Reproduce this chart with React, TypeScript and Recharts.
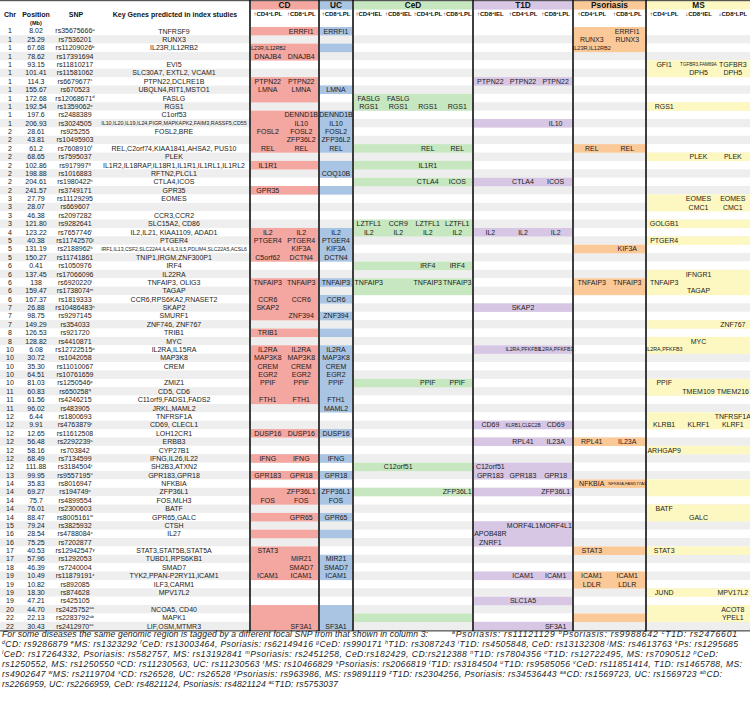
import React from "react";
import { ScatterChart, Scatter, XAxis, YAxis } from "recharts";

// ---------------- data ----------------
const chrs = [1,1,1,1,1,1,1,1,1,1,1,1,2,2,2,2,2,2,2,2,3,3,3,3,4,5,5,5,6,6,6,6,6,7,7,7,8,8,10,10,10,10,10,11,11,11,12,12,12,12,12,12,12,13,14,14,14,14,14,15,16,16,17,17,18,19,19,19,19,20,22,22];

const positions = ["8.02","25.29","67.68","78.62","93.15","101.41","114.3","155.67","172.68","192.54","197.6","206.93","28.61","43.81","61.2","68.65","102.86","198.88","204.61","241.57","27.79","28.07","46.38","121.80","123.22","40.38","131.19","150.27","0.41","137.45","138","159.47","167.37","26.88","98.75","149.29","126.53","128.82","6.08","30.72","35.30","64.51","81.03","60.83","61.56","96.02","6.44","9.91","12.65","56.48","58.16","68.49","111.88","99.95","35.83","69.27","75.7","76.01","88.47","79.24","28.54","75.25","40.53","57.96","46.39","10.49","10.82","18.30","47.21","44.70","22.13","30.43"];

const snps = ["rs35675666","rs7536201","rs11209026","rs17391694","rs11810217","rs11581062","rs6679677","rs670523","rs12068671","rs1359062","rs2488389","rs3024505","rs925255","rs10495903","rs7608910","rs7595037","rs917997","rs1016883","rs1980422","rs3749171","rs11129295","rs669607","rs2097282","rs9282641","rs7657746","rs11742570","rs2188962","rs11741861","rs1050976","rs17066096","rs6920220","rs1738074","rs1819333","rs10486483","rs9297145","rs354033","rs921720","rs4410871","rs12722515","rs1042058","rs11010067","rs10761659","rs1250546","rs650258","rs4246215","rs483905","rs1800693","rs4763879","rs11612508","rs2292239","rs703842","rs7134599","rs3184504","rs9557195","rs8016947","rs194749","rs4899554","rs2300603","rs8005161","rs3825932","rs4788084","rs7202877","rs12942547","rs1292053","rs7240004","rs11879191","rs892085","rs874628","rs425105","rs2425752","rs2283792","rs2412970"];

const snpMarks: [number, string][] = [[1,"a"],[3,"b"],[7,"c"],[9,"d"],[10,"e"],[15,"f"],[17,"g"],[19,"h"],[25,"i"],[26,"j"],[27,"k"],[31,"l"],[32,"m"],[34,"n"],[39,"o"],[43,"p"],[44,"q"],[48,"r"],[50,"s"],[53,"t"],[54,"u"],[56,"v"],[59,"w"],[61,"x"],[63,"y"],[66,"z"],[70,"aa"],[71,"ab"],[72,"ac"]];

const keyGenes = ["TNFRSF9","RUNX3","IL23R,IL12RB2","","EVI5","SLC30A7, EXTL2, VCAM1","PTPN22,DCLRE1B","UBQLN4,RIT1,MSTO1","FASLG","RGS1","C1orf53","IL10,IL20,IL19,IL24,PIGR,MAPKAPK2,FAIM3,RASSF5,CD55","FOSL2,BRE","","REL,C2orf74,KIAA1841,AHSA2, PUS10","PLEK","IL1R2,IL18RAP,IL18R1,IL1R1,IL1RL1,IL1RL2","RFTN2,PLCL1","CTLA4,ICOS","GPR35","EOMES","","CCR3,CCR2","SLC15A2, CD86","IL2,IL21, KIAA1109, ADAD1","PTGER4","IRF1,IL13,CSF2,SLC22A4,IL4,IL3,IL5,PDLIM4,SLC22A5,ACSL6","TNIP1,IRGM,ZNF300P1","IRF4","IL22RA","TNFAIP3, OLIG3","TAGAP","CCR6,RPS6KA2,RNASET2","SKAP2","SMURF1","ZNF746, ZNF767","TRIB1","MYC","IL2RA,IL15RA","MAP3K8","CREM","","ZMIZ1","CD5, CD6","C11orf9,FADS1,FADS2","JRKL,MAML2","TNFRSF1A","CD69, CLECL1","LOH12CR1","ERBB3","CYP27B1","IFNG,IL26,IL22","SH2B3,ATXN2","GPR183,GPR18","NFKBIA","ZFP36L1","FOS,MLH3","BATF","GPR65,GALC","CTSH","IL27","","STAT3,STAT5B,STAT5A","TUBD1,RPS6KB1","SMAD7","TYK2,PPAN-P2RY11,ICAM1","ILF3,CARM1","MPV17L2","","NCOA5, CD40","MAPK1","LIF,OSM,MTMR3"];

const diseases = ["CD", "UC", "CeD", "T1D", "Psoriasis", "MS"];

// [arrow, cell, compartment]
const subHeaders: [string, string, string][][] = [
  [["↑","CD4","LPL"],["↑","CD8","LPL"]],
  [["↑","CD8","LPL"]],
  [["↑","CD4","IEL"],["↑","CD8","IEL"],["↑","CD4","LPL"],["↑","CD8","LPL"]],
  [["↑","CD8","IEL"],["↑","CD4","LPL"],["↑","CD8","LPL"]],
  [["↑","CD4","LPL"],["↑","CD8","LPL"]],
  [["↑","CD4","LPL"],["↓","CD8","IEL"],["↓","CD8","LPL"]],
];

// shaded row ranges [first, last] per disease
const cdBlocks = [[1,1],[3,4],[7,9],[11,15],[17,17],[20,20],[25,28],[31,35],[37,37],[39,45],[49,49],[52,52],[54,54],[56,57],[59,59],[61,61],[63,66],[70,72]];
const ucBlocks = [[1,1],[3,3],[8,8],[11,15],[17,18],[20,20],[25,28],[31,31],[33,33],[35,35],[37,37],[39,46],[49,49],[52,52],[54,54],[56,57],[59,59],[61,61],[64,66],[70,72]];
const cedBlocks = [[9,10],[15,15],[17,17],[19,19],[24,25],[29,29],[31,32],[43,43],[53,53],[56,56],[71,71]];
const t1dBlocks = [[7,7],[12,12],[19,19],[25,25],[34,34],[39,39],[48,48],[50,50],[53,54],[56,56],[60,62],[66,66],[69,69],[72,72]];
const psBlocks = [[1,3],[15,15],[27,27],[31,32],[50,50],[55,55],[63,63],[66,67],[71,71]];
const msBlocks = [[5,6],[10,10],[16,16],[21,22],[24,24],[26,26],[30,32],[36,36],[38,39],[43,44],[47,48],[51,51],[55,56],[58,59],[63,63],[68,68],[70,71]];

// [row, sub-column, gene]
const cdGenes: [number, number, string][] = [
  [1,1,"ERRFI1"],[3,0,"IL23R,IL12RB2"],[4,0,"DNAJB4"],[4,1,"DNAJB4"],[7,0,"PTPN22"],[7,1,"PTPN22"],
  [8,0,"LMNA"],[8,1,"LMNA"],[11,1,"DENND1B"],[12,1,"IL10"],[13,0,"FOSL2"],[13,1,"FOSL2"],[14,1,"ZFP36L2"],
  [15,0,"REL"],[15,1,"REL"],[17,0,"IL1R1"],[20,0,"GPR35"],[25,0,"IL2"],[25,1,"IL2"],[26,0,"PTGER4"],[26,1,"PTGER4"],
  [27,1,"KIF3A"],[28,0,"C5orf62"],[28,1,"DCTN4"],[31,0,"TNFAIP3"],[31,1,"TNFAIP3"],[33,0,"CCR6"],[33,1,"CCR6"],
  [34,0,"SKAP2"],[35,1,"ZNF394"],[37,0,"TRIB1"],[39,0,"IL2RA"],[39,1,"IL2RA"],[40,0,"MAP3K8"],[40,1,"MAP3K8"],
  [41,0,"CREM"],[41,1,"CREM"],[42,0,"EGR2"],[42,1,"EGR2"],[43,0,"PPIF"],[43,1,"PPIF"],[45,0,"FTH1"],[45,1,"FTH1"],
  [49,0,"DUSP16"],[49,1,"DUSP16"],[52,0,"IFNG"],[52,1,"IFNG"],[54,0,"GPR183"],[54,1,"GPR18"],[56,1,"ZFP36L1"],
  [57,0,"FOS"],[57,1,"FOS"],[59,1,"GPR65"],[63,0,"STAT3"],[64,1,"MIR21"],[65,1,"SMAD7"],[66,0,"ICAM1"],[66,1,"ICAM1"],
  [72,1,"SF3A1"],
];
const ucGenes: [number, number, string][] = [
  [1,0,"ERRFI1"],[8,0,"LMNA"],[11,0,"DENND1B"],[12,0,"IL10"],[13,0,"FOSL2"],[14,0,"ZFP36L2"],[15,0,"REL"],
  [18,0,"COQ10B"],[25,0,"IL2"],[26,0,"PTGER4"],[27,0,"KIF3A"],[28,0,"DCTN4"],[31,0,"TNFAIP3"],[33,0,"CCR6"],
  [35,0,"ZNF394"],[39,0,"IL2RA"],[40,0,"MAP3K8"],[41,0,"CREM"],[42,0,"EGR2"],[43,0,"PPIF"],[45,0,"FTH1"],
  [46,0,"MAML2"],[49,0,"DUSP16"],[52,0,"IFNG"],[54,0,"GPR18"],[56,0,"ZFP36L1"],[57,0,"FOS"],[59,0,"GPR65"],
  [64,0,"MIR21"],[65,0,"SMAD7"],[66,0,"ICAM1"],[72,0,"SF3A1"],
];
const cedGenes: [number, number, string][] = [
  [9,0,"FASLG"],[9,1,"FASLG"],[10,0,"RGS1"],[10,1,"RGS1"],[10,2,"RGS1"],[10,3,"RGS1"],[15,2,"REL"],[15,3,"REL"],
  [17,2,"IL1R1"],[19,2,"CTLA4"],[19,3,"ICOS"],[24,0,"LZTFL1"],[24,1,"CCR9"],[24,2,"LZTFL1"],[24,3,"LZTFL1"],
  [25,0,"IL2"],[25,1,"IL2"],[25,2,"IL2"],[25,3,"IL2"],[29,2,"IRF4"],[29,3,"IRF4"],[31,0,"TNFAIP3"],[31,2,"TNFAIP3"],
  [31,3,"TNFAIP3"],[43,2,"PPIF"],[43,3,"PPIF"],[53,1,"C12orf51"],[56,3,"ZFP36L1"],
];
const t1dGenes: [number, number, string][] = [
  [7,0,"PTPN22"],[7,1,"PTPN22"],[7,2,"PTPN22"],[12,2,"IL10"],[19,1,"CTLA4"],[19,2,"ICOS"],[25,0,"IL2"],[25,1,"IL2"],
  [25,2,"IL2"],[34,1,"SKAP2"],[39,1,"IL2RA,PFKFB3"],[39,2,"IL2RA,PFKFB3"],[48,0,"CD69"],[48,1,"KLRB1,CLEC2B"],
  [48,2,"CD69"],[50,1,"RPL41"],[50,2,"IL23A"],[53,0,"C12orf51"],[54,0,"GPR183"],[54,1,"GPR183"],[54,2,"GPR18"],
  [56,2,"ZFP36L1"],[60,1,"MORF4L1"],[60,2,"MORF4L1"],[61,0,"APOB48R"],[62,0,"ZNRF1"],[66,1,"ICAM1"],[66,2,"ICAM1"],
  [69,1,"SLC1A5"],[72,2,"SF3A1"],
];
const psGenes: [number, number, string][] = [
  [1,1,"ERRFI1"],[2,0,"RUNX3"],[2,1,"RUNX3"],[3,0,"IL23R,IL12RB2"],[15,0,"REL"],[15,1,"REL"],[27,1,"KIF3A"],
  [31,0,"TNFAIP3"],[31,1,"TNFAIP3"],[50,0,"RPL41"],[50,1,"IL23A"],[55,0,"NFKBIA"],[55,1,"NFKBIA,FAM177A1"],
  [63,0,"STAT3"],[66,0,"ICAM1"],[66,1,"ICAM1"],[67,0,"LDLR"],[67,1,"LDLR"],
];
const msGenes: [number, number, string][] = [
  [5,0,"GFI1"],[5,1,"TGFBR3,FAM69A"],[5,2,"TGFBR3"],[6,1,"DPH5"],[6,2,"DPH5"],[10,0,"RGS1"],[16,1,"PLEK"],[16,2,"PLEK"],
  [21,1,"EOMES"],[21,2,"EOMES"],[22,1,"CMC1"],[22,2,"CMC1"],[24,0,"GOLGB1"],[26,0,"PTGER4"],[30,1,"IFNGR1"],
  [31,0,"TNFAIP3"],[32,1,"TAGAP"],[36,2,"ZNF767"],[38,1,"MYC"],[39,0,"IL2RA,PFKFB3"],[43,0,"PPIF"],
  [44,1,"TMEM109"],[44,2,"TMEM216"],[47,2,"TNFRSF1A"],[48,0,"KLRB1"],[48,1,"KLRF1"],[48,2,"KLRF1"],
  [51,0,"ARHGAP9"],[58,0,"BATF"],[59,1,"GALC"],[63,0,"STAT3"],[68,0,"JUND"],[68,2,"MPV17L2"],[70,2,"ACOT8"],
  [71,2,"YPEL1"],
];

const diseaseBlocks = [cdBlocks, ucBlocks, cedBlocks, t1dBlocks, psBlocks, msBlocks];
const diseaseGenes = [cdGenes, ucGenes, cedGenes, t1dGenes, psGenes, msGenes];

const footerIntro = "For some diseases the same genomic region is tagged by a different focal SNP from that shown in column 3:";
const footerLines: [string, string][][] = [
  [["a","Psoriasis: rs11121129 "],["b","Psoriasis: rs9988642 "],["c","T1D: rs2476601"]],
  [["d","CD: rs9286879 "],["e","MS: rs1323292 "],["f","CeD: rs13003464, Psoriasis: rs62149416 "],["g","CeD: rs990171 "],["h","T1D: rs3087243 "],["i","T1D: rs4505848, CeD: rs13132308 "],["j","MS: rs4613763 "],["k","Ps: rs1295685"]],
  [["l","CeD: rs17264332, Psoriasis: rs582757, MS: rs13192841 "],["m","Psoriasis: rs2451258, CeD:rs182429, CD:rs212388 "],["n","T1D: rs7804356 "],["o","T1D: rs12722495, MS: rs7090512 "],["p","CeD:"]],
  [["","rs1250552, MS: rs1250550 "],["q","CD: rs11230563, UC: rs11230563 "],["r","MS: rs10466829 "],["s","Psoriasis: rs2066819 "],["t","T1D: rs3184504 "],["u","T1D: rs9585056 "],["v","CeD: rs11851414, T1D: rs1465788, MS:"]],
  [["","rs4902647 "],["w","MS: rs2119704 "],["x","CD: rs26528, UC: rs26528 "],["y","Psoriasis: rs963986, MS: rs9891119 "],["z","T1D: rs2304256, Psoriasis: rs34536443 "],["aa","CD: rs1569723, UC: rs1569723 "],["ab","CD:"]],
  [["","rs2266959, UC: rs2266959, CeD: rs4821124, Psoriasis: rs4821124 "],["ac","T1D: rs5753037"]],
];

// ---------------- layout / style ----------------
const WIDTH = 750;
const HEIGHT = 702;
const TABLE_TOP = 26.8;
const TABLE_BOTTOM = 630.2;
const NROWS = chrs.length;
const ROWH = (TABLE_BOTTOM - TABLE_TOP) / NROWS;
const FONT = "'Liberation Sans', Arial, Helvetica, sans-serif";
const INK = "#1c1c1c";
const STRIPE = "#eeeeee";

const DISEASE_LAYOUT = [
  { x0: 251, x1: 318, fill: "#f4a6a0" },
  { x0: 320, x1: 352, fill: "#a9c5e3" },
  { x0: 354, x1: 472, fill: "#c6e7c0" },
  { x0: 474, x1: 572, fill: "#d7c7e5" },
  { x0: 574, x1: 645, fill: "#fbc998" },
  { x0: 647, x1: 750, fill: "#fdf8c2" },
];
const DIVIDERS = [250, 319, 353, 473, 573, 646];
const FOOTER_WIDTHS = [736, 716, 740, 720, 336];

const UPPER: Record<string, number> = { A:.667,B:.667,C:.722,D:.722,E:.667,F:.611,G:.778,H:.722,I:.278,J:.5,K:.667,L:.556,M:.833,N:.722,O:.778,P:.667,Q:.778,R:.722,S:.667,T:.611,U:.722,V:.667,W:.944,X:.667,Y:.667,Z:.611 };
function emWidth(s: string): number {
  let w = 0;
  for (const ch of s) {
    if (UPPER[ch] !== undefined) w += UPPER[ch];
    else if (ch >= "0" && ch <= "9") w += 0.556;
    else if (",. :".includes(ch)) w += 0.278;
    else if (ch === "-") w += 0.333;
    else if ("ijl".includes(ch)) w += 0.222;
    else if ("frt".includes(ch)) w += 0.3;
    else if (ch === "m") w += 0.833;
    else w += 0.54;
  }
  return w;
}
const subWidth = (d: number) => (DISEASE_LAYOUT[d].x1 - DISEASE_LAYOUT[d].x0) / subHeaders[d].length;
const subCenter = (d: number, s: number) => DISEASE_LAYOUT[d].x0 + (s + 0.5) * subWidth(d);
const markOf = new Map<number, string>(snpMarks);

// ---------------- chart data ----------------
const rowData = chrs.map((_, i) => ({ x: WIDTH / 2, y: i + 0.5, row: i }));
const blockData = diseaseBlocks.flatMap((blocks, d) =>
  blocks.map(([s, e]) => ({ x: (DISEASE_LAYOUT[d].x0 + DISEASE_LAYOUT[d].x1) / 2, y: (s - 1 + e) / 2, span: e - s + 1, d }))
);
const geneData = diseaseGenes.flatMap((list, d) =>
  list.map(([r, s, text]) => ({ x: subCenter(d, s), y: r - 0.5, d, text }))
);
const overlayData = [{ x: WIDTH / 2, y: 1 }];

// ---------------- shapes ----------------
function RowShape(p: any) {
  const { cy, payload } = p;
  const i = payload.row as number;
  const base = cy + 2.5;
  const mark = markOf.get(i + 1);
  const genes = keyGenes[i];
  const gfs = genes ? Math.min(7, 146 / emWidth(genes)) : 7;
  const common = { fontFamily: FONT, fill: INK, textAnchor: "middle" as const };
  return (
    <g>
      <rect x={0} y={cy - ROWH / 2} width={WIDTH} height={ROWH + 0.2} fill={i % 2 === 1 ? STRIPE : "#ffffff"} />
      <text x={10} y={base} fontSize={7} {...common}>{chrs[i]}</text>
      <text x={36} y={base} fontSize={7} {...common}>{positions[i]}</text>
      <text x={75} y={base} fontSize={7} {...common}>
        {snps[i]}
        {mark ? <tspan dy={-2.4} fontSize={4.3}>{mark}</tspan> : null}
      </text>
      {genes ? <text x={174} y={cy + gfs * 0.36} fontSize={gfs} {...common}>{genes}</text> : null}
    </g>
  );
}

function BlockShape(p: any) {
  const { cy, payload } = p;
  const L = DISEASE_LAYOUT[payload.d];
  const h = payload.span * ROWH;
  return <rect x={L.x0} y={cy - h / 2} width={L.x1 - L.x0} height={h + 0.2} fill={L.fill} />;
}

function GeneShape(p: any) {
  const { cx, cy, payload } = p;
  const w = subWidth(payload.d);
  const fs = Math.max(4.2, Math.min(7, (w * 1.08) / emWidth(payload.text)));
  return (
    <text x={cx} y={cy + fs * 0.36} fontSize={fs} fill={INK} fontFamily={FONT} textAnchor="middle">
      {payload.text}
    </text>
  );
}

function FooterSegs({ segs }: { segs: [string, string][] }) {
  const out: React.ReactNode[] = [];
  segs.forEach(([m, t], k) => {
    if (m) {
      out.push(<tspan key={`m${k}`} dy={-2.8} fontSize={5.4}>{m}</tspan>);
      out.push(<tspan key={`t${k}`} dy={2.8}>{t}</tspan>);
    } else {
      out.push(<tspan key={`t${k}`}>{t}</tspan>);
    }
  });
  return <>{out}</>;
}

function OverlayShape() {
  const hdr = { fontFamily: FONT, fill: "#111", fontWeight: 700, textAnchor: "middle" as const };
  return (
    <g>
      {/* header background */}
      <rect x={0} y={0} width={WIDTH} height={TABLE_TOP} fill="#ffffff" />
      {DISEASE_LAYOUT.map((L, d) => (
        <rect key={`hb${d}`} x={L.x0} y={1} width={L.x1 - L.x0} height={8.6} fill={L.fill} />
      ))}
      {diseases.map((name, d) => (
        <text key={`hn${d}`} x={(DISEASE_LAYOUT[d].x0 + DISEASE_LAYOUT[d].x1) / 2} y={8.3} fontSize={8.3} {...hdr}>{name}</text>
      ))}
      {subHeaders.map((subs, d) =>
        subs.map(([arrow, cell, comp], s) => (
          <text key={`sh${d}-${s}`} x={subCenter(d, s)} y={16.3} fontSize={6} {...hdr}>
            {arrow}{cell}<tspan dy={-1.8} fontSize={4}>+</tspan><tspan dy={1.8}>{comp}</tspan>
          </text>
        ))
      )}
      <text x={10} y={16.6} fontSize={7} {...hdr}>Chr</text>
      <text x={36} y={16.6} fontSize={7} {...hdr}>Position</text>
      <text x={36} y={25} fontSize={5.6} {...hdr}>(Mb)</text>
      <text x={76} y={16.6} fontSize={7} {...hdr}>SNP</text>
      <text x={175} y={16.6} fontSize={7} {...hdr}>Key Genes predicted in index studies</text>

      {/* borders */}
      <rect x={0} y={0} width={WIDTH} height={1.2} fill="#555" />
      <rect x={0} y={TABLE_BOTTOM} width={WIDTH} height={1.5} fill="#555" />
      {DIVIDERS.map((x, k) => (
        <rect key={`dv${k}`} x={x - 0.8} y={0} width={1.6} height={TABLE_BOTTOM + 1} fill="#111" />
      ))}

      {/* footer */}
      <rect x={0} y={TABLE_BOTTOM + 1.5} width={WIDTH} height={HEIGHT - TABLE_BOTTOM - 1.5} fill="#ffffff" />
      <g fontFamily={FONT} fontStyle="italic" fontSize={8.6} fill="#222">
        <text x={2} y={637} textLength={426} lengthAdjust="spacing">{footerIntro}</text>
        <text x={452} y={637} textLength={285} lengthAdjust="spacing"><FooterSegs segs={footerLines[0]} /></text>
        {footerLines.slice(1).map((segs, k) => (
          <text key={`fl${k}`} x={2} y={647 + k * 10} textLength={FOOTER_WIDTHS[k]} lengthAdjust="spacing">
            <FooterSegs segs={segs} />
          </text>
        ))}
      </g>
    </g>
  );
}

export default function App() {
  return (
    <div style={{ position: "absolute", left: 0, top: 0, width: WIDTH, height: HEIGHT, background: "#ffffff" }}>
      <ScatterChart
        width={WIDTH}
        height={HEIGHT}
        margin={{ top: TABLE_TOP, right: 0, bottom: HEIGHT - TABLE_BOTTOM, left: 0 }}
      >
        <XAxis type="number" dataKey="x" domain={[0, WIDTH]} hide />
        <YAxis type="number" dataKey="y" domain={[0, NROWS]} reversed hide />
        <Scatter data={rowData} shape={RowShape} isAnimationActive={false} />
        <Scatter data={blockData} shape={BlockShape} isAnimationActive={false} />
        <Scatter data={geneData} shape={GeneShape} isAnimationActive={false} />
        <Scatter data={overlayData} shape={OverlayShape} isAnimationActive={false} />
      </ScatterChart>
    </div>
  );
}
